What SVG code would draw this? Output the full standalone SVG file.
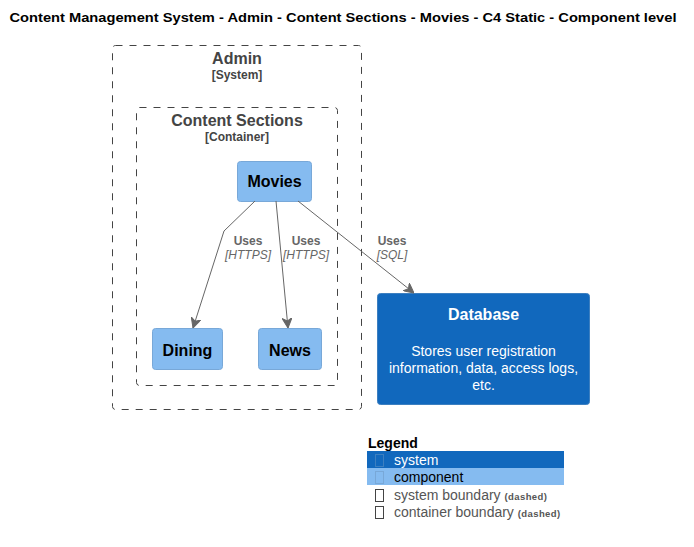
<svg xmlns="http://www.w3.org/2000/svg" width="694" height="547" viewBox="0 0 694 547">
<defs>
<style>
text{font-family:"Liberation Sans",Arial,sans-serif}
.bnd{fill:none;stroke:#444444;stroke-width:1;stroke-dasharray:7,7}
.bt{font-size:16px;font-weight:bold;fill:#444444;text-anchor:middle}
.bs{font-size:12px;font-weight:bold;fill:#444444;text-anchor:middle}
.comp{fill:#85BBF0;stroke:#78A8D8;stroke-width:1}
.ct{font-size:16px;font-weight:bold;fill:#000000;text-anchor:middle}
.sys{fill:#1168BD;stroke:#3C7FC0;stroke-width:1}
.st{font-size:16px;font-weight:bold;fill:#FFFFFF;text-anchor:middle}
.sd{font-size:14px;fill:#FFFFFF;text-anchor:middle}
.edge{fill:none;stroke:#666666;stroke-width:1}
.el{font-size:12px;font-weight:bold;fill:#666666;text-anchor:middle}
.et{font-size:12px;font-style:italic;fill:#666666;text-anchor:middle}
.lg{font-size:14px}
.ld{font-size:9.5px;font-weight:bold;letter-spacing:0.4px}
.ic{fill:none;stroke-width:1}
</style>
<marker id="arr" viewBox="0 0 10 10" refX="10" refY="5" markerWidth="10" markerHeight="10" markerUnits="userSpaceOnUse" orient="auto">
<path d="M0,0 L10,5 L0,10 L3,5 Z" fill="#666666" stroke="#666666" stroke-width="1"/>
</marker>
</defs>
<rect width="694" height="547" fill="#FFFFFF"/>
<text x="343" y="22" font-size="13" font-weight="bold" text-anchor="middle" textLength="667" lengthAdjust="spacingAndGlyphs" fill="#000000">Content Management System - Admin - Content Sections - Movies - C4 Static - Component level</text>

<g id="admin">
<rect class="bnd" x="112.5" y="45.5" width="249" height="364" rx="3"/>
<text class="bt" x="237" y="64">Admin</text>
<text class="bs" x="237" y="79" font-size="11">[System]</text>
</g>

<g id="content-sections">
<rect class="bnd" x="136.5" y="107.5" width="201" height="278" rx="3"/>
<text class="bt" x="237" y="126">Content Sections</text>
<text class="bs" x="237" y="141" font-size="11">[Container]</text>
</g>

<g id="movies">
<rect class="comp" x="237.5" y="161.5" width="74" height="40" rx="3"/>
<text class="ct" x="274.5" y="187">Movies</text>
</g>

<g id="dining">
<rect class="comp" x="152.5" y="328.5" width="70" height="41" rx="3"/>
<text class="ct" x="187.5" y="356">Dining</text>
</g>

<g id="news">
<rect class="comp" x="258.5" y="328.5" width="63" height="41" rx="3"/>
<text class="ct" x="290" y="356">News</text>
</g>

<g id="database">
<rect class="sys" x="377.5" y="293.5" width="212" height="111" rx="3"/>
<text class="st" x="483.5" y="320">Database</text>
<text class="sd" x="483.5" y="356">Stores user registration</text>
<text class="sd" x="483.5" y="373">information, data, access logs,</text>
<text class="sd" x="483.5" y="390">etc.</text>
</g>

<g id="connectors">
<path class="edge" d="M255,201 L224,231 L193,328" marker-end="url(#arr)"/>
<text class="el" x="248" y="245">Uses</text>
<text class="et" x="248" y="259">[HTTPS]</text>
<path class="edge" d="M276,201 L288,328" marker-end="url(#arr)"/>
<text class="el" x="306" y="245">Uses</text>
<text class="et" x="306" y="259">[HTTPS]</text>
<path class="edge" d="M298,201 L414,293" marker-end="url(#arr)"/>
<text class="el" x="392" y="245">Uses</text>
<text class="et" x="392" y="259">[SQL]</text>
</g>

<g id="legend">
<text x="368" y="448" font-size="14" font-weight="bold" fill="#000000">Legend</text>
<rect x="367" y="451" width="197" height="17" fill="#1168BD"/>
<rect x="367" y="468" width="197" height="17" fill="#85BBF0"/>
<rect class="ic" x="375.5" y="454.5" width="8" height="12" stroke="#3C7FC0"/>
<text class="lg" x="394" y="465" fill="#FFFFFF">system</text>
<rect class="ic" x="375.5" y="471.5" width="8" height="12" stroke="#78A8D8"/>
<text class="lg" x="394" y="482" fill="#000000">component</text>
<rect class="ic" x="375.5" y="489.5" width="8" height="12" stroke="#444444"/>
<text class="lg" x="394" y="500" fill="#555555">system boundary <tspan class="ld">(dashed)</tspan></text>
<rect class="ic" x="375.5" y="506.5" width="8" height="12" stroke="#444444"/>
<text class="lg" x="394" y="517" fill="#555555">container boundary <tspan class="ld">(dashed)</tspan></text>
</g>
</svg>
